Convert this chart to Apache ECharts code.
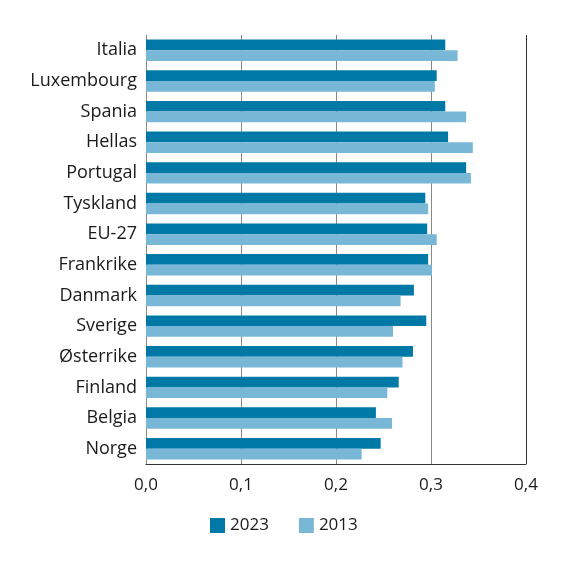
<!DOCTYPE html>
<html>
<head>
<meta charset="utf-8">
<script src="https://cdn.jsdelivr.net/npm/echarts@6/dist/echarts.min.js"></script>
<style>
  html, body { margin: 0; padding: 0; background: #fff; }
  #chart { width: 576px; height: 568px; }
</style>
</head>
<body>
<div id="chart"></div>
<script>
// land, ovenfra og ned
var land = ['Italia', 'Luxembourg', 'Spania', 'Hellas', 'Portugal', 'Tyskland', 'EU-27',
  'Frankrike', 'Danmark', 'Sverige', 'Østerrike', 'Finland', 'Belgia', 'Norge'];
var verdier2023 = [0.315, 0.306, 0.315, 0.318, 0.337, 0.294, 0.296,
  0.297, 0.282, 0.295, 0.281, 0.266, 0.242, 0.247];
var verdier2013 = [0.328, 0.304, 0.337, 0.344, 0.342, 0.297, 0.306,
  0.301, 0.268, 0.260, 0.270, 0.254, 0.259, 0.227];
var xTicks = [0, 0.1, 0.2, 0.3, 0.4];

var font = '"Open Sans", "Noto Sans", sans-serif';
var myChart = echarts.init(document.getElementById('chart'));

var option = {
  animation: false,
  textStyle: { fontFamily: font },
  grid: { left: 146, right: 50, top: 35, bottom: 104 },
  legend: {
    top: 512,
    left: 205,
    itemWidth: 15,
    itemHeight: 15,
    itemGap: 30,
    icon: 'rect',
    textStyle: { fontSize: 17, color: '#1a1a1a', fontFamily: font },
    data: ['2023', '2013']
  },
  xAxis: {
    type: 'value',
    min: xTicks[0],
    max: xTicks[xTicks.length - 1],
    interval: 0.1,
    axisLine: { show: true, lineStyle: { color: '#333', width: 1 } },
    axisTick: { show: false },
    axisLabel: {
      fontSize: 17, color: '#1a1a1a', margin: 13, fontFamily: font,
      formatter: function (v) { return v.toFixed(1).replace('.', ','); }
    },
    splitLine: { show: true, lineStyle: { color: ['#888', '#888', '#888', '#888', '#333'], width: 1 } }
  },
  yAxis: {
    type: 'category',
    data: land,
    inverse: true,
    axisLine: { show: false },
    axisTick: { show: false },
    axisLabel: { fontSize: 18, color: '#1a1a1a', margin: 9, fontFamily: font }
  },
  series: [
    {
      name: '2023',
      type: 'bar',
      data: verdier2023,
      barGap: '0%',
      barCategoryGap: '30%',
      itemStyle: { color: '#0079a6' }
    },
    {
      name: '2013',
      type: 'bar',
      data: verdier2013,
      itemStyle: { color: '#78b8d6' }
    }
  ]
};

myChart.setOption(option);
</script>
</body>
</html>
